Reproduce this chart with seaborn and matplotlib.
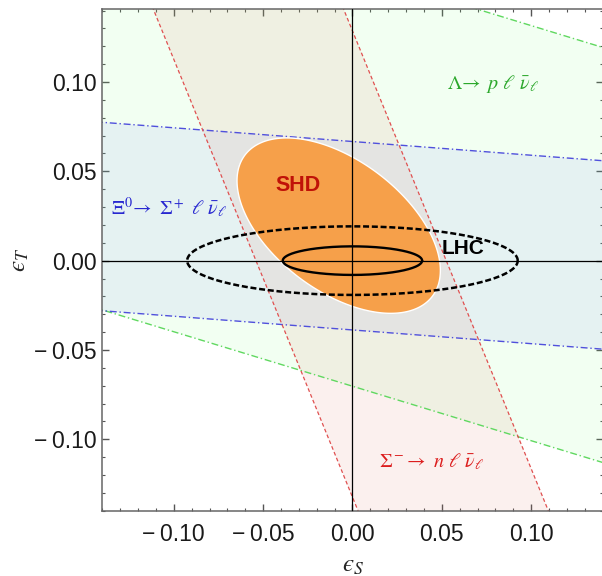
import numpy as np
import matplotlib
matplotlib.use("Agg")
import matplotlib.pyplot as plt
from matplotlib.ticker import MultipleLocator
import seaborn as sns

# ---------------- data ----------------
# Lambda -> p l nu band:  eps_T = slope*eps_S + c,  c in bounds
lam_slope = -0.305
lam_bounds = [-0.0703, 0.1621]
# Xi0 -> Sigma+ l nu band: eps_T = slope*eps_S + c
xi_slope = -0.0768
xi_bounds = [-0.0388, 0.0667]
# Sigma- -> n l nu band: eps_S = slope*eps_T + c
sig_slope = -0.408
sig_bounds = [-0.0540, 0.0525]
# SHD allowed region (ellipse): centre and covariance-like shape matrix
shd_center = [-0.0077, 0.0196]
shd_shape = [[0.003238, -0.00143], [-0.00143, 0.002411]]
# LHC ellipses (semi-axes along eps_S, eps_T), centred at the origin
lhc_inner = [0.039, 0.0080]
lhc_outer = [0.0925, 0.0192]

tick_vals = [-0.10, -0.05, 0.00, 0.05, 0.10]
tick_labels = ["\u2212\u20090.10", "\u2212\u20090.05", "0.00", "0.05", "0.10"]

labels = {
    "lam": r"$\Lambda\!\rightarrow\ p\ \ell\ \bar{\nu}_\ell$",
    "xi": r"$\Xi^0\!\rightarrow\ \Sigma^+\ \ell\ \bar{\nu}_\ell$",
    "sig": r"$\Sigma^-\!\rightarrow\ n\ \ell\ \bar{\nu}_\ell$",
}
label_pos = {"lam": (0.0787, 0.0991), "xi": (-0.1026, 0.0297),
             "sig": (0.0444, -0.1125), "SHD": (-0.0305, 0.0418),
             "LHC": (0.0617, 0.0068)}

# ---------------- styling ----------------
sns.set_theme(style="ticks")
plt.rcParams["font.family"] = ["Liberation Sans", "DejaVu Sans"]
plt.rcParams["mathtext.fontset"] = "stix"

fig = plt.figure(figsize=(6.02, 5.76), dpi=100)
ax = fig.add_axes([102.3 / 602, (576 - 510.7) / 576, 500.3 / 602, 501.9 / 576])
ax.set_xlim(-0.14, 0.14)
ax.set_ylim(-0.14, 0.141)

xs = np.array([-0.3, 0.3])
ys = np.array([-0.3, 0.3])

# band fills (semi-transparent overlays)
ax.fill_between(xs, lam_slope * xs + lam_bounds[0], lam_slope * xs + lam_bounds[1],
                color=(0.5, 1.0, 0.5), alpha=0.10, lw=0, zorder=1)
ax.fill_between(xs, xi_slope * xs + xi_bounds[0], xi_slope * xs + xi_bounds[1],
                color=(0.46, 0.52, 0.97), alpha=0.10, lw=0, zorder=1)
ax.fill_betweenx(ys, sig_slope * ys + sig_bounds[0], sig_slope * ys + sig_bounds[1],
                 color=(0.87, 0.44, 0.37), alpha=0.10, lw=0, zorder=1)

# band boundary lines
for c in lam_bounds:
    sns.lineplot(x=xs, y=lam_slope * xs + c, ax=ax, color="#60D860", lw=1.0,
                 linestyle=(0, (5, 2, 1, 2)), sort=False, estimator=None, zorder=2)
for c in xi_bounds:
    sns.lineplot(x=xs, y=xi_slope * xs + c, ax=ax, color="#5050DC", lw=1.0,
                 linestyle=(0, (5, 2, 1, 2)), sort=False, estimator=None, zorder=2)
for c in sig_bounds:
    sns.lineplot(x=sig_slope * ys + c, y=ys, ax=ax, color="#E05050", lw=0.9,
                 linestyle=(0, (3, 2)), sort=False, estimator=None,
                 orient="y", zorder=2)

# SHD ellipse
t = np.linspace(0, 2 * np.pi, 400)
L = np.linalg.cholesky(np.array(shd_shape))
pts = np.array(shd_center)[:, None] + L @ np.vstack([np.cos(t), np.sin(t)])
ax.fill(pts[0], pts[1], facecolor="#F6A04A", edgecolor="white", lw=1.0, zorder=3)

# axes cross-hair
ax.axhline(0, color="black", lw=0.9, zorder=4)
ax.axvline(0, color="black", lw=0.9, zorder=4)

# LHC ellipses
sns.lineplot(x=lhc_inner[0] * np.cos(t), y=lhc_inner[1] * np.sin(t), ax=ax,
             color="black", lw=1.7, sort=False, estimator=None, zorder=5)
sns.lineplot(x=lhc_outer[0] * np.cos(t), y=lhc_outer[1] * np.sin(t), ax=ax,
             color="black", lw=1.8, linestyle=(0, (2.4, 1.1)), sort=False,
             estimator=None, zorder=5)

# labels
ax.text(*label_pos["lam"], labels["lam"], color="#2CA82C", fontsize=14.5,
        ha="center", va="center", zorder=6)
ax.text(*label_pos["xi"], labels["xi"], color="#2828D0", fontsize=14.5,
        ha="center", va="center", zorder=6)
ax.text(*label_pos["sig"], labels["sig"], color="#DC1E1E", fontsize=14.5,
        ha="center", va="center", zorder=6)
ax.text(*label_pos["SHD"], "SHD", color="#C01208", fontsize=15.5,
        fontweight="bold", ha="center", va="center", zorder=6)
ax.text(*label_pos["LHC"], "LHC", color="black", fontsize=15,
        fontweight="bold", ha="center", va="center", zorder=6)

# ticks and spines
ax.set_xticks(tick_vals, tick_labels)
ax.set_yticks(tick_vals, tick_labels)
ax.xaxis.set_minor_locator(MultipleLocator(0.01))
ax.yaxis.set_minor_locator(MultipleLocator(0.01))
ax.tick_params(which="both", direction="in", top=True, right=True,
               color="#555555", labelcolor="#1a1a1a", labelsize=16.5)
ax.tick_params(which="major", length=5, width=1.0)
ax.tick_params(which="minor", length=2.5, width=0.8)
ax.tick_params(axis="x", pad=9)
ax.tick_params(axis="y", pad=4)
for s in ax.spines.values():
    s.set_color("#666666")
    s.set_linewidth(1.1)

ax.set_xlabel("$\u03f5_S$", fontsize=18)
ax.set_ylabel("$\u03f5_T$", fontsize=18)
ax.xaxis.set_label_coords(0.5005, -0.108)
ax.yaxis.set_label_coords(-0.1665, 0.4997)
ax.xaxis.label.set_va("center")
ax.yaxis.label.set_va("center")

fig.savefig("out.png", dpi=100)
